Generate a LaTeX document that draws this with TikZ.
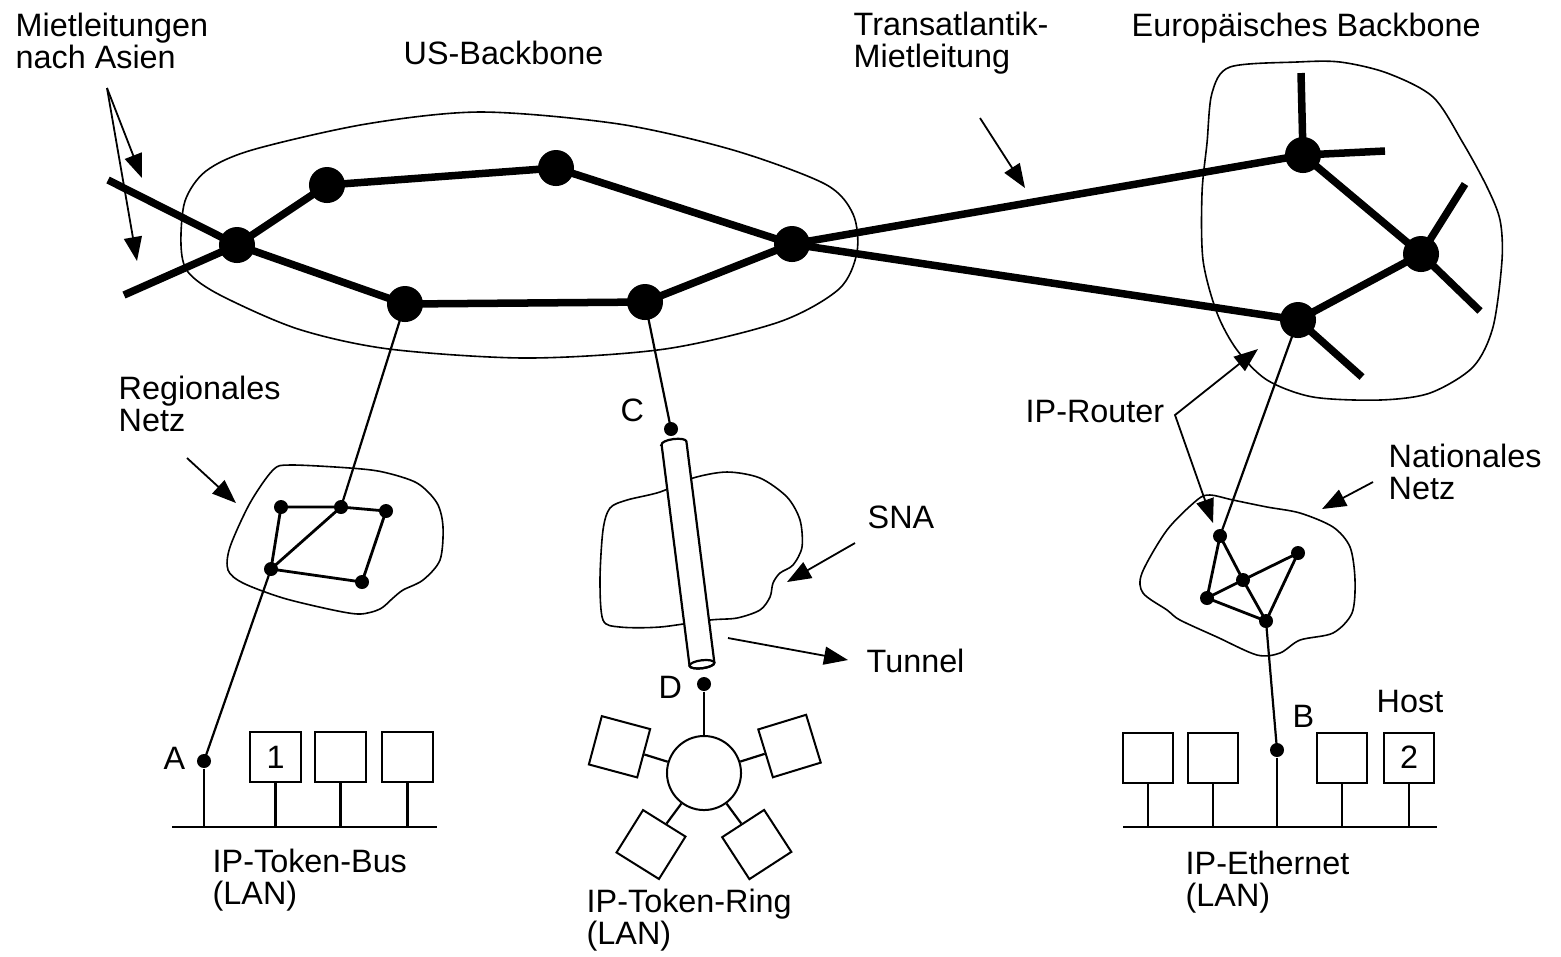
\documentclass[tikz,border=0pt]{standalone}
\usepackage{fontspec}
\setmainfont{Liberation Sans}
\usetikzlibrary{arrows.meta}
\pgfdeclarelayer{bg}
\pgfsetlayers{bg,main}
\newcommand\lblfont{\fontsize{9.2}{9.1}\selectfont}
\begin{document}
\begin{tikzpicture}[x=0.01cm, y=-0.01cm,
  bigdot/.style={circle, fill=black, inner sep=0pt, minimum size=0.36cm},
  smalldot/.style={circle, fill=black, inner sep=0pt, minimum size=0.14cm},
  trunk/.style={line width=0.075cm},
  netedge/.style={line width=0.028cm},
  wire/.style={line width=0.022cm},
  cloudline/.style={line width=0.016cm},
  ptr/.style={line width=0.018cm, -{Triangle[length=0.24cm, width=0.18cm]}},
  ptrboth/.style={line width=0.018cm, {Triangle[length=0.24cm, width=0.18cm]}-{Triangle[length=0.24cm, width=0.18cm]}},
  hostbox/.style={draw, line width=0.02cm, minimum size=0.5cm, inner sep=0pt, fill=white, font=\lblfont},
  lbl/.style={anchor=base west, inner sep=0pt, align=left, font=\lblfont},
]
\useasboundingbox (0,0) rectangle (1561,956);

% ---------- clouds ----------
\draw[cloudline] plot[smooth cycle] coordinates {(481,112) (619,124) (733,150) (825,184) (853,214) (857,252) (839,289) (779,322) (665,349) (527,358) (389,349) (298,329) (220,295) (188,272) (181,245) (185,201) (206,171) (252,150) (366,124)};
\draw[cloudline] plot[smooth cycle] coordinates {(1297,62) (1340,62) (1387,73) (1433,97) (1463,143) (1487,187) (1500,220) (1502,260) (1493,327) (1473,367) (1430,393) (1380,400) (1313,397) (1267,380) (1237,350) (1217,313) (1203,260) (1202,193) (1207,143) (1212,93) (1230,67)};
\draw[cloudline] plot[smooth cycle] coordinates {(290,465) (350,468) (383,472) (417,483) (437,503) (443,527) (440,560) (423,580) (403,590) (393,598) (380,609) (360,614) (333,610) (283,598) (243,583) (228,570) (230,547) (250,503) (273,470)};
\draw[cloudline] plot[smooth cycle] coordinates {(603,530) (610,508) (627,500) (660,492) (693,478) (727,472) (760,478) (787,497) (800,520) (802,547) (793,565) (780,573) (773,583) (770,597) (760,610) (737,618) (710,620) (660,627) (620,627) (603,620) (600,580)};
\draw[cloudline] plot[smooth cycle] coordinates {(1210,495) (1233,500) (1267,507) (1300,513) (1333,527) (1350,547) (1355,580) (1352,613) (1333,633) (1300,640) (1280,653) (1257,655) (1217,637) (1180,620) (1167,610) (1143,593) (1142,573) (1167,530) (1197,500)};

% ---------- backbone routers ----------
\node[bigdot] (u1) at (237,245) {};
\node[bigdot] (u2) at (327,185) {};
\node[bigdot] (u3) at (556,168) {};
\node[bigdot] (u4) at (405,304) {};
\node[bigdot] (u5) at (645,302) {};
\node[bigdot] (u6) at (792,244) {};
\node[bigdot] (e1) at (1303,155) {};
\node[bigdot] (e2) at (1421,254) {};
\node[bigdot] (e3) at (1298,320) {};
\coordinate (asia1) at (108,180);
\coordinate (asia2) at (124,295);
\coordinate (e1up) at (1301,73);
\coordinate (e1rt) at (1385,151);
\coordinate (e2up) at (1465,184);
\coordinate (e2dn) at (1480,311);
\coordinate (e3dn) at (1362,377);

% ---------- regional net ----------
\node[smalldot] (r1) at (281,507) {};
\node[smalldot] (r2) at (341,507) {};
\node[smalldot] (r3) at (386,511) {};
\node[smalldot] (r4) at (271,569) {};
\node[smalldot] (r5) at (362,582) {};
% ---------- national net ----------
\node[smalldot] (d1) at (1220,536) {};
\node[smalldot] (d2) at (1298,553) {};
\node[smalldot] (d3) at (1243,580) {};
\node[smalldot] (d4) at (1207,598) {};
\node[smalldot] (d5) at (1266,621) {};
% ---------- gateways ----------
\node[smalldot] (A) at (204,761) {};
\node[smalldot] (B) at (1277,750) {};
\node[smalldot] (C) at (671,429) {};
\node[smalldot] (D) at (704,684) {};

\begin{pgfonlayer}{bg}
\draw[trunk] (asia1) -- (u1.center);
\draw[trunk] (asia2) -- (u1.center);
\draw[trunk] (u1.center) -- (u2.center) -- (u3.center) -- (u6.center);
\draw[trunk] (u1.center) -- (u4.center) -- (u5.center) -- (u6.center);
\draw[trunk] (u6.center) -- (e1.center);
\draw[trunk] (u6.center) -- (e3.center);
\draw[trunk] (e1.center) -- (e2.center) -- (e3.center);
\draw[trunk] (e1.center) -- (e1up);
\draw[trunk] (e1.center) -- (e1rt);
\draw[trunk] (e2.center) -- (e2up);
\draw[trunk] (e2.center) -- (e2dn);
\draw[trunk] (e3.center) -- (e3dn);
\draw[netedge] (r1.center) -- (r2.center) -- (r3.center) -- (r5.center) -- (r4.center) -- (r1.center);
\draw[netedge] (r4.center) -- (r2.center);
\draw[netedge] (d1.center) -- (d4.center) -- (d5.center) -- (d2.center) -- (d3.center) -- (d1.center);
\draw[netedge] (d4.center) -- (d3.center) -- (d5.center);
\draw[wire] (u4.center) -- (r2.center);
\draw[wire] (r4.center) -- (A.center);
\draw[wire] (u5.center) -- (C.center);
\draw[wire] (e3.center) -- (d1.center);
\draw[wire] (d5.center) -- (B.center);
\end{pgfonlayer}

% ---------- tunnel through SNA ----------
\begin{scope}[shift={(674,443)}, rotate=7.2]
  \filldraw[fill=white, wire] (-12.5,0) -- (-12.5,223)
     arc[start angle=180, end angle=360, x radius=0.125cm, y radius=0.04cm]
     -- (12.5,0)
     arc[start angle=0, end angle=180, x radius=0.125cm, y radius=0.04cm] -- cycle;
  \draw[wire] (0,223) ellipse[x radius=0.125cm, y radius=0.04cm];
\end{scope}

% ---------- token bus LAN ----------
\coordinate (busL) at (172,827);
\coordinate (busR) at (437,827);
\draw[wire] (busL) -- (busR);
\node[hostbox] (h1) at (275.5,757) {1};
\node[hostbox] (h2) at (340.5,757) {};
\node[hostbox] (h3) at (407.5,757) {};
\draw[wire] (A) -- (A |- busL);
\foreach \h in {h1,h2,h3} \draw[wire] (\h.south) -- (\h.south |- busL);

% ---------- token ring LAN ----------
\node[circle, draw, line width=0.02cm, minimum size=0.74cm, inner sep=0pt] (ring) at (704,773) {};
\node[hostbox, rotate=-15] (s1) at (619.5,746.75) {};
\node[hostbox, rotate=17] (s2) at (789.5,746) {};
\node[hostbox, rotate=-32] (s3) at (651,844.5) {};
\node[hostbox, rotate=33] (s4) at (756.75,844.5) {};
\draw[wire] (D) -- (ring);
\foreach \s in {s1,s2,s3,s4} \draw[wire] (ring) -- (\s);

% ---------- ethernet LAN ----------
\coordinate (ethL) at (1123,827);
\coordinate (ethR) at (1437,827);
\draw[wire] (ethL) -- (ethR);
\node[hostbox] (k1) at (1148,757.5) {};
\node[hostbox] (k2) at (1213,757.5) {};
\node[hostbox] (k3) at (1342,757.5) {};
\node[hostbox] (k4) at (1409,757.5) {2};
\draw[wire] (B) -- (B |- ethL);
\foreach \k in {k1,k2,k3,k4} \draw[wire] (\k.south) -- (\k.south |- ethL);

% ---------- labels (base = last line) ----------
\node[lbl] (tAsia) at (15,68) {Mietleitungen\\nach Asien};
\node[lbl] (tUS) at (403,64) {US-Backbone};
\node[lbl] (tTrans) at (853,67) {Transatlantik-\\Mietleitung};
\node[lbl] (tEU) at (1131,36) {Europäisches Backbone};
\node[lbl] (tReg) at (118,431) {Regionales\\Netz};
\node[lbl] (tC) at (620,421) {C};
\node[lbl] (tSNA) at (867,528) {SNA};
\node[lbl] (tTun) at (866,672) {Tunnel};
\node[lbl] (tD) at (658,698) {D};
\node[lbl] (tA) at (163,769) {A};
\node[lbl] (tBus) at (212,904) {IP-Token-Bus\\(LAN)};
\node[lbl] (tRing) at (586,944) {IP-Token-Ring\\(LAN)};
\node[lbl] (tRouter) at (1025,422) {IP-Router};
\node[lbl] (tNat) at (1388,499) {Nationales\\Netz};
\node[lbl] (tB) at (1292,727) {B};
\node[lbl] (tHost) at (1376,712) {Host};
\node[lbl] (tEth) at (1185,906) {IP-Ethernet\\(LAN)};

% ---------- pointer arrows ----------
\coordinate (pAsia) at (107,88);
\coordinate (tipAsia1) at (142,178);
\coordinate (tipAsia2) at (137,261);
\draw[ptr] (pAsia) -- (tipAsia1);
\draw[ptr] (pAsia) -- (tipAsia2);
\coordinate (pTrans) at (980,118);
\coordinate (tipTrans) at (1025,188);
\draw[ptr] (pTrans) -- (tipTrans);
\coordinate (pReg) at (187,458);
\coordinate (tipReg) at (236,503);
\draw[ptr] (pReg) -- (tipReg);
\coordinate (pSNA) at (855,543);
\coordinate (tipSNA) at (787,582);
\draw[ptr] (pSNA) -- (tipSNA);
\coordinate (pTun) at (728,638);
\coordinate (tipTun) at (848,660);
\draw[ptr] (pTun) -- (tipTun);
\coordinate (pRouter) at (1175,415);
\coordinate (tipRouter1) at (1258,349);
\coordinate (tipRouter2) at (1213,523);
\draw[ptrboth] (tipRouter1) -- (pRouter) -- (tipRouter2);
\coordinate (pNat) at (1373,482);
\coordinate (tipNat) at (1322,509);
\draw[ptr] (pNat) -- (tipNat);
\end{tikzpicture}
\end{document}
